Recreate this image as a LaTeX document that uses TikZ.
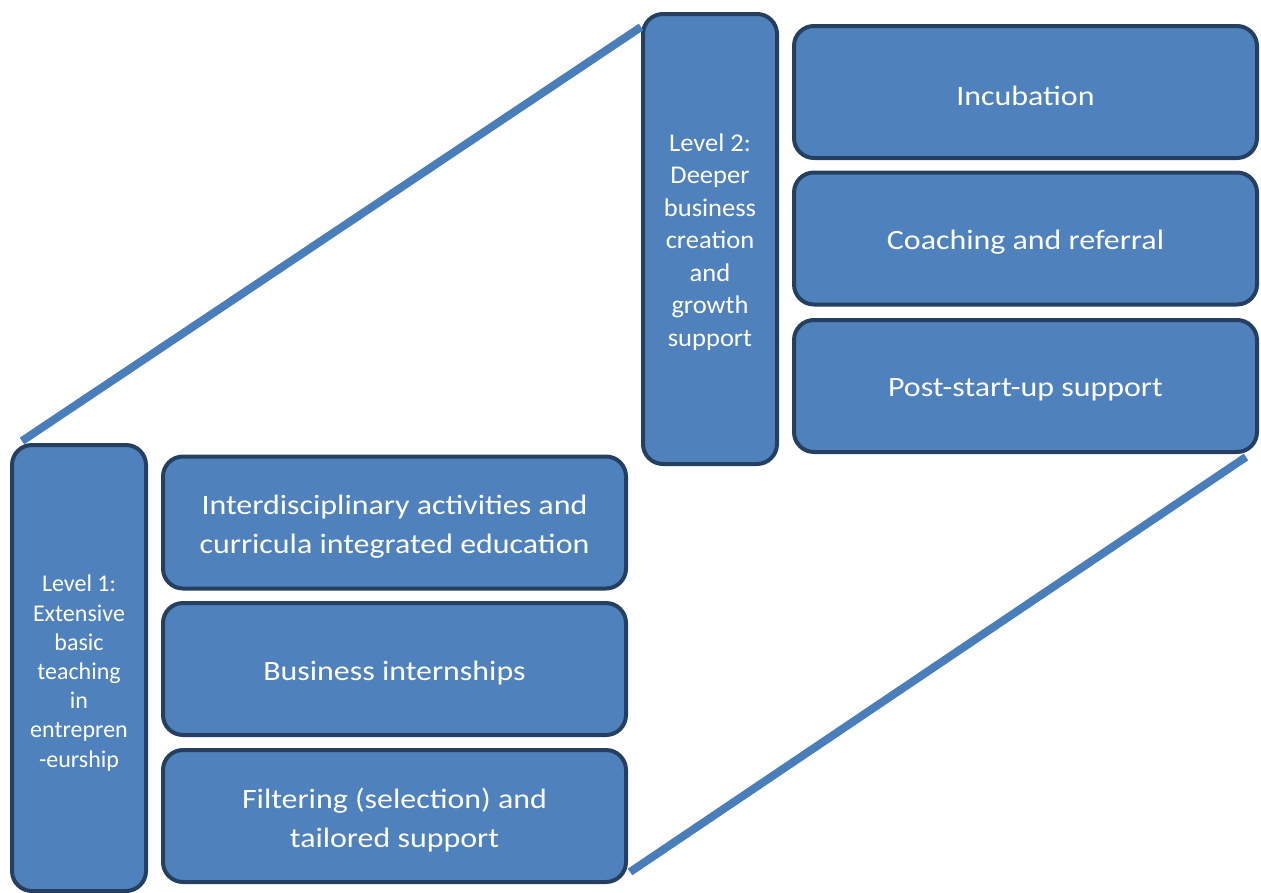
\documentclass[tikz,border=0pt]{standalone}
\usepackage{fontspec}
\setmainfont{Carlito}
\newfontfamily\subfont[FakeStretch=1.14]{Carlito}
\newfontfamily\lvlafont[FakeStretch=1.0]{Carlito}
\newfontfamily\lvlbfont[FakeStretch=1.04]{Carlito}
\definecolor{boxfill}{HTML}{4F81BD}
\definecolor{boxline}{HTML}{243F60}
\definecolor{linkcol}{HTML}{4A7EBB}
\begin{document}
\begin{tikzpicture}[x=1pt,y=-1pt,
  box/.style={draw=boxline, fill=boxfill, line width=4pt, rounded corners=20pt, inner sep=0pt},
  txt/.style={text=white, align=center, inner sep=0pt},
  subtxt/.style={txt, yshift=-4pt, font=\subfont\fontsize{28}{38.5}\selectfont},
  lvlatxt/.style={txt, yshift=-5pt, font=\lvlafont\fontsize{24}{29.2}\selectfont},
  lvlbtxt/.style={txt, yshift=-3pt, font=\lvlbfont\fontsize{25.5}{32.5}\selectfont},
  sub/.style={box, minimum width=463pt, minimum height=132pt},
  lvl/.style={box, minimum width=134pt},
  link/.style={draw=linkcol, line width=8pt}]
\useasboundingbox (0,0) rectangle (1261,892);
% Level 1
\node[lvl, minimum height=446pt,
  label={[lvlatxt]center:{Level 1:\\Extensive\\basic\\teaching\\in\\entrepren\\-eurship}}] (l1) at (79,668) {};
\node[sub, label={[subtxt]center:{Interdisciplinary activities and\\curricula integrated education}}] (s1) at (394.5,522.5) {};
\node[sub, label={[subtxt]center:{Business internships}}] (s2) at (394.5,669) {};
\node[sub, label={[subtxt]center:{Filtering (selection) and\\tailored support}}] (s3) at (394.5,816) {};
% Level 2
\node[lvl, minimum height=450pt,
  label={[lvlbtxt]center:{Level 2:\\Deeper\\business\\creation\\and\\growth\\support}}] (l2) at (710,239) {};
\node[sub, label={[subtxt]center:{Incubation}}] (t1) at (1025.5,92) {};
\node[sub, label={[subtxt]center:{Coaching and referral}}] (t2) at (1025.5,238.5) {};
\node[sub, label={[subtxt]center:{Post-start-up support}}] (t3) at (1025.5,386) {};
% connectors
\coordinate (a1) at (22,441);
\coordinate (a2) at (641,27);
\coordinate (b1) at (630,872);
\coordinate (b2) at (1246,457);
\draw[link] (a1) -- (a2);
\draw[link] (b1) -- (b2);
\end{tikzpicture}
\end{document}
